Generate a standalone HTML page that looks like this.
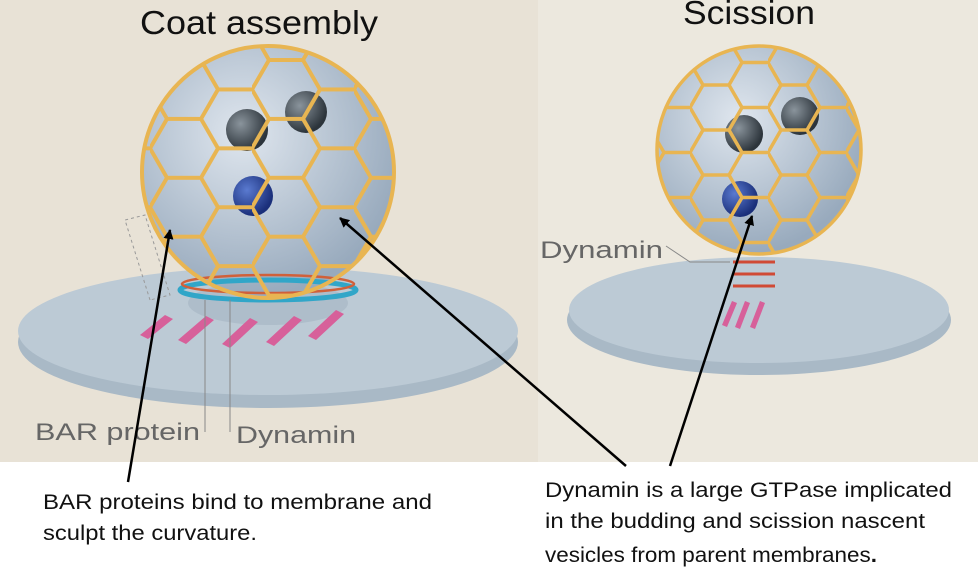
<!DOCTYPE html>
<html><head><style>
body{margin:0;width:978px;height:568px;background:#fff;overflow:hidden;font-family:"Liberation Sans",Arial,sans-serif}
</style></head><body>
<svg width="978" height="568" xmlns="http://www.w3.org/2000/svg">
<defs>
<radialGradient id="sph" cx="40%" cy="35%" r="65%"><stop offset="0" stop-color="#dfe6ee"/><stop offset="1" stop-color="#98aabd"/></radialGradient>
<radialGradient id="ball" cx="35%" cy="35%" r="65%"><stop offset="0" stop-color="#8a949c"/><stop offset="1" stop-color="#2c343b"/></radialGradient>
<radialGradient id="blue" cx="35%" cy="35%" r="65%"><stop offset="0" stop-color="#5a7ad0"/><stop offset="1" stop-color="#1a2f7a"/></radialGradient>
<pattern id="hex" width="102" height="58.9" patternUnits="userSpaceOnUse" x="150" y="60">
<path d="M0,29.45 L17,0 L51,0 L68,29.45 L51,58.9 L17,58.9 Z M68,29.45 L102,29.45" fill="none" stroke="#e8b552" stroke-width="4"/>
</pattern>
<pattern id="hex2" width="78" height="45" patternUnits="userSpaceOnUse" x="690" y="40">
<path d="M0,22.5 L13,0 L39,0 L52,22.5 L39,45 L13,45 Z M52,22.5 L78,22.5" fill="none" stroke="#e8b552" stroke-width="3.5"/>
</pattern>
<clipPath id="cl"><ellipse cx="268" cy="172" rx="126" ry="126"/></clipPath>
<clipPath id="cr"><ellipse cx="759" cy="150" rx="102" ry="104"/></clipPath>
<marker id="ah" markerWidth="10" markerHeight="10" refX="9" refY="5" orient="auto" markerUnits="userSpaceOnUse"><path d="M0,0 L10,5 L0,10 z" fill="#000"/></marker>
</defs>
<rect x="0" y="0" width="538" height="462" fill="#e8e2d6"/>
<rect x="538" y="0" width="440" height="462" fill="#ece8de"/>
<text x="140" y="34" font-size="33" textLength="238" lengthAdjust="spacingAndGlyphs" fill="#111">Coat assembly</text>
<text x="683" y="24" font-size="33" textLength="132" lengthAdjust="spacingAndGlyphs" fill="#111">Scission</text>
<ellipse cx="268" cy="342" rx="250" ry="66" fill="#a9b9c6"/>
<ellipse cx="268" cy="331" rx="250" ry="64" fill="#bccad5"/>
<ellipse cx="268" cy="303" rx="80" ry="22" fill="#aebdca"/>
<g fill="#d7609a"><path d="M140,335 l25,-20 l8,4 l-25,20z"/><path d="M178,340 l28,-24 l8,4 l-28,24z"/><path d="M222,344 l28,-26 l8,4 l-28,26z"/><path d="M266,342 l28,-26 l8,4 l-28,26z"/><path d="M308,336 l28,-26 l8,4 l-28,26z"/></g>
<ellipse cx="268" cy="172" rx="126" ry="126" fill="url(#sph)"/>
<ellipse cx="268" cy="290" rx="88" ry="10" fill="none" stroke="#31a6c8" stroke-width="5"/>
<ellipse cx="268" cy="284" rx="86" ry="9" fill="none" stroke="#d0603a" stroke-width="2.5"/>
<circle cx="253" cy="196" r="20" fill="url(#blue)"/>
<circle cx="247" cy="130" r="21" fill="url(#ball)"/>
<circle cx="306" cy="112" r="21" fill="url(#ball)"/>
<rect x="130" y="40" width="280" height="260" fill="url(#hex)" clip-path="url(#cl)"/>
<ellipse cx="268" cy="172" rx="126" ry="126" fill="none" stroke="#e8b552" stroke-width="4"/>
<path d="M150,300 l-25,-80 l20,-5 l25,80z" fill="none" stroke="#999" stroke-dasharray="3,3"/>
<line x1="205" y1="300" x2="205" y2="432" stroke="#888"/><line x1="230" y1="300" x2="230" y2="432" stroke="#888"/>
<text x="35" y="440" font-size="24" textLength="165" lengthAdjust="spacingAndGlyphs" fill="#666">BAR protein</text>
<text x="236" y="443" font-size="24" textLength="120" lengthAdjust="spacingAndGlyphs" fill="#666">Dynamin</text>
<ellipse cx="759" cy="320" rx="192" ry="55" fill="#a9b9c6"/>
<ellipse cx="759" cy="310" rx="190" ry="53" fill="#bccad5"/>
<g fill="#d7609a"><path d="M722,325 l10,-24 l5,2 l-10,24z"/><path d="M735,327 l10,-26 l5,2 l-10,26z"/><path d="M750,327 l10,-26 l5,2 l-10,26z"/></g>
<g stroke="#d04a35" stroke-width="3"><line x1="733" y1="262" x2="775" y2="262"/><line x1="733" y1="274" x2="775" y2="274"/><line x1="733" y1="286" x2="775" y2="286"/></g>
<ellipse cx="757" cy="250" rx="16" ry="5" fill="#31a6c8"/>
<ellipse cx="759" cy="150" rx="102" ry="104" fill="url(#sph)"/>
<circle cx="740" cy="199" r="18" fill="url(#blue)"/>
<circle cx="744" cy="134" r="19" fill="url(#ball)"/>
<circle cx="800" cy="116" r="19" fill="url(#ball)"/>
<rect x="650" y="40" width="220" height="220" fill="url(#hex2)" clip-path="url(#cr)"/>
<ellipse cx="759" cy="150" rx="102" ry="104" fill="none" stroke="#e8b552" stroke-width="3.5"/>
<polyline points="666,246 690,262 730,262" fill="none" stroke="#888"/>
<text x="540" y="258" font-size="24" textLength="123" lengthAdjust="spacingAndGlyphs" fill="#666">Dynamin</text>
<g stroke="#000" stroke-width="2.5" marker-end="url(#ah)">
<line x1="128" y1="482" x2="170" y2="230"/>
<line x1="626" y1="466" x2="340" y2="218"/>
<line x1="670" y1="466" x2="752" y2="216"/>
</g>
<g font-size="21" fill="#111">
<text x="43" y="509" textLength="389" lengthAdjust="spacingAndGlyphs">BAR proteins bind to membrane and</text>
<text x="43" y="540" textLength="214" lengthAdjust="spacingAndGlyphs">sculpt the curvature.</text>
<text x="545" y="497" textLength="407" lengthAdjust="spacingAndGlyphs">Dynamin is a large GTPase implicated</text>
<text x="545" y="528" textLength="380" lengthAdjust="spacingAndGlyphs">in the budding and scission nascent</text>
<text x="545" y="562" textLength="332" lengthAdjust="spacingAndGlyphs">vesicles from parent membranes<tspan font-weight="bold">.</tspan></text>
</g>
</svg>
</body></html>
